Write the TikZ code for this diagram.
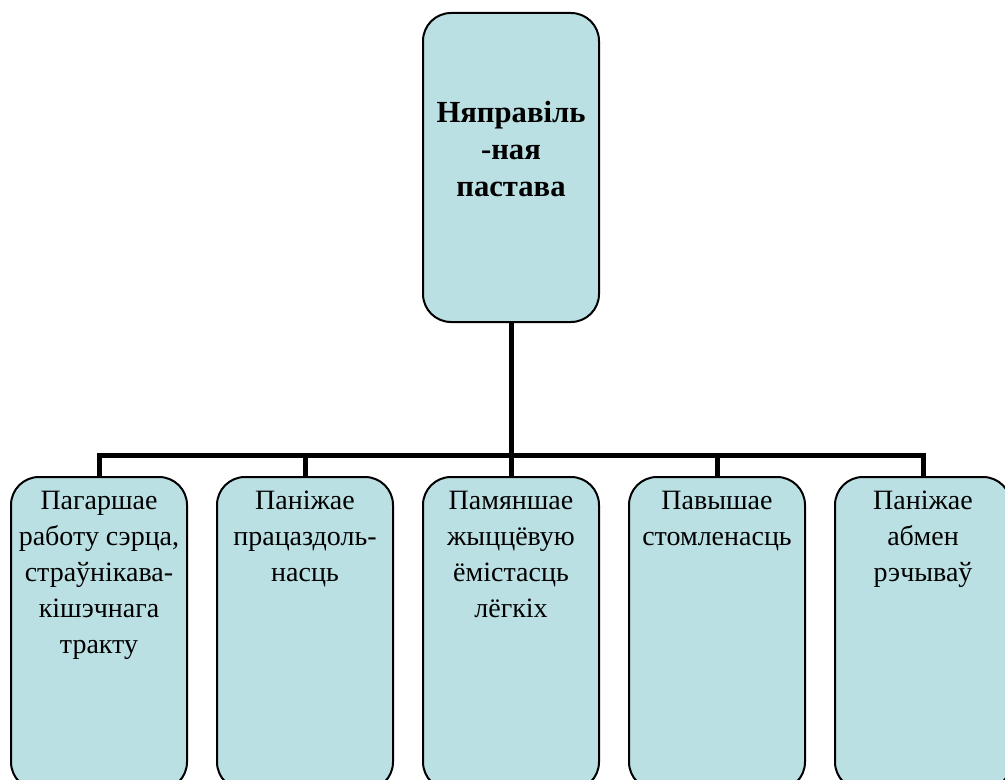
\documentclass[tikz,border=0pt]{standalone}
\usepackage{fontspec}
\setmainfont{Liberation Serif}
\usepackage{xcolor}
\usetikzlibrary{positioning}

\definecolor{boxblue}{RGB}{187,224,227}

\begin{document}
\begin{tikzpicture}[
  x=0.75pt, y=-0.75pt,
  box/.style={rectangle, draw, line width=1.5pt, rounded corners=21pt, fill=boxblue, minimum width=132pt},
  topbox/.style={box, minimum height=231.75pt},
  leafbox/.style={box, minimum height=234.75pt},
  toptext/.style={font=\fontsize{23}{27.75}\selectfont\bfseries, align=center, anchor=north, inner sep=0pt},
  leaftext/.style={font=\fontsize{21}{27}\selectfont, align=center, anchor=north, inner sep=0pt},
  conn/.style={line width=3.75pt}
]
\useasboundingbox (0,0) rectangle (1005,780);

% Top node
\node[topbox] (top) at (511,167.5) {};
\node[toptext, below=66.75pt of top.north] (toplbl) {Няправіль\\-ная\\пастава};

% Leaf nodes
\node[leafbox] (b1) at (99,633.5) {};
\node[leafbox, right=21pt of b1] (b2) {};
\node[leafbox, right=21pt of b2] (b3) {};
\node[leafbox, right=21pt of b3] (b4) {};
\node[leafbox, right=21pt of b4] (b5) {};

\node[leaftext, below=11.25pt of b1.north] (t1) {Пагаршае\\работу сэрца,\\страўнікава-\\кішэчнага\\тракту};
\node[leaftext, below=11.25pt of b2.north] (t2) {Паніжае\\працаздоль-\\насць};
\node[leaftext, below=11.25pt of b3.north] (t3) {Памяншае\\жыццёвую\\ёмістасць\\лёгкіх};
\node[leaftext, below=11.25pt of b4.north] (t4) {Павышае\\стомленасць};
\node[leaftext, below=11.25pt of b5.north] (t5) {Паніжае\\абмен\\рэчываў};

% Connectors
\coordinate (bus) at (511,455);
\foreach \b in {b1,b2,b3,b4,b5}
  \draw[conn] (top.south) -- (top.south |- bus) -| (\b.north);

\end{tikzpicture}
\end{document}
